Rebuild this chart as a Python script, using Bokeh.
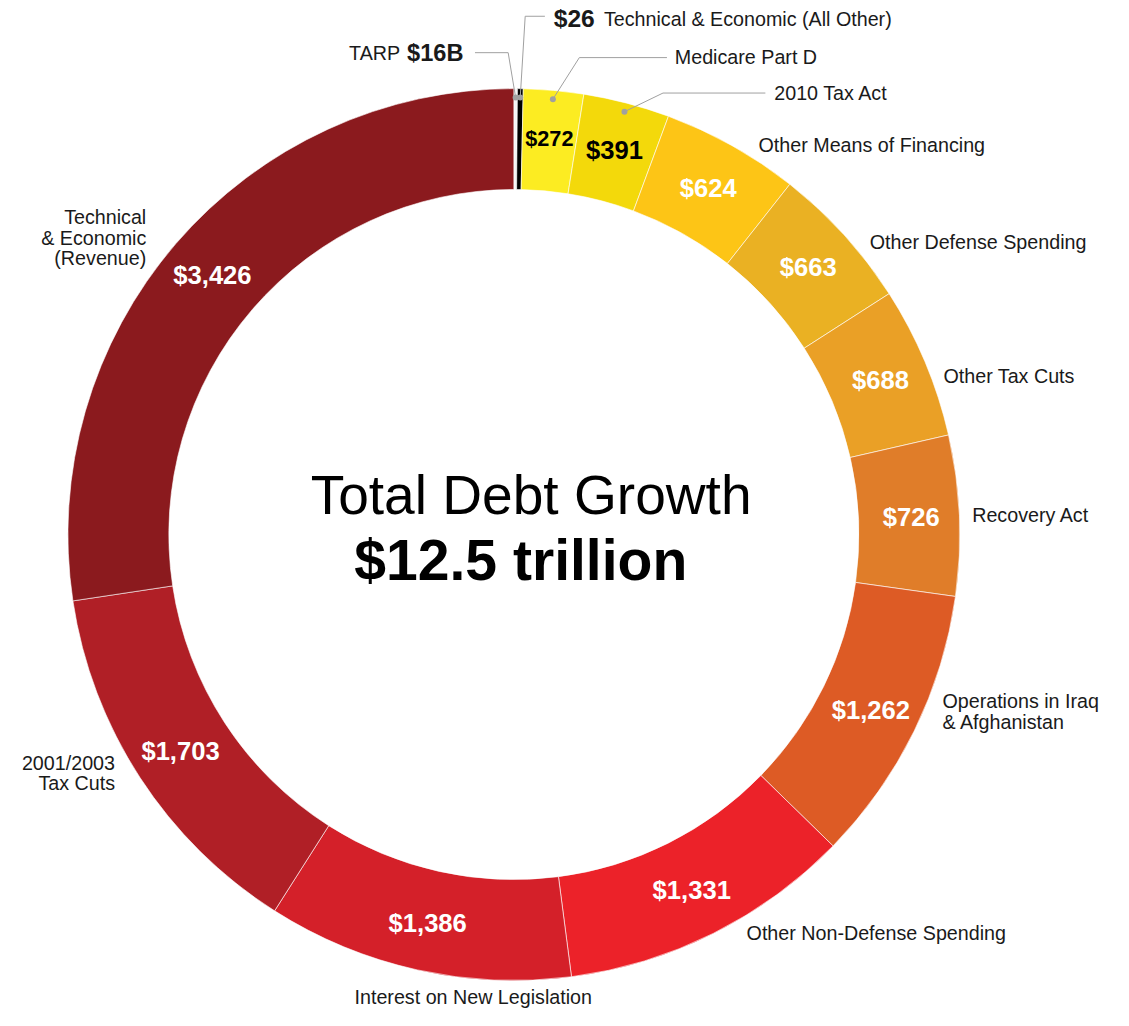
import math
from bokeh.plotting import figure
from bokeh.models import Range1d, ColumnDataSource
from bokeh.embed import file_html
from bokeh.resources import INLINE
from bokeh.core.properties import value

# ---------------- data ----------------
categories = [
    "TARP",
    "Technical & Economic (All Other)",
    "Medicare Part D",
    "2010 Tax Act",
    "Other Means of Financing",
    "Other Defense Spending",
    "Other Tax Cuts",
    "Recovery Act",
    "Operations in Iraq & Afghanistan",
    "Other Non-Defense Spending",
    "Interest on New Legislation",
    "2001/2003 Tax Cuts",
    "Technical & Economic (Revenue)",
]
values = [16, 26, 272, 391, 624, 663, 688, 726, 1262, 1331, 1386, 1703, 3426]
value_labels = ["$16B", "$26", "$272", "$391", "$624", "$663", "$688", "$726",
                "$1,262", "$1,331", "$1,386", "$1,703", "$3,426"]
display_names = [
    "TARP",
    "Technical & Economic (All Other)",
    "Medicare Part D",
    "2010 Tax Act",
    "Other Means of Financing",
    "Other Defense Spending",
    "Other Tax Cuts",
    "Recovery Act",
    "Operations in Iraq\n& Afghanistan",
    "Other Non-Defense Spending",
    "Interest on New Legislation",
    "2001/2003\nTax Cuts",
    "Technical\n& Economic\n(Revenue)",
]
title_text = "Total Debt Growth"
total_text = "$12.5 trillion"

# ---------------- style / layout ----------------
colors = ["#f4f4f4", "#000000", "#fcec22", "#f3d90b", "#fdc516", "#eab123",
          "#eaa026", "#e07d29", "#dd5b25", "#ec2229", "#d42029", "#b01f26",
          "#8b1a1e"]
inner_text_colors = ["white"] * 13
inner_text_colors[2] = "black"
inner_text_colors[3] = "black"
FONT = "Liberation Sans"
TXT = "#1a1a1a"

W, H = 1113, 1010
REF_W, REF_H = 1129, 1026
S = H / REF_H  # whole design scaled slightly so it fits the figure


def Y(py):  # reference pixel y -> data y
    return REF_H - py


def fs(px):
    return f"{px * S:.1f}px"


CX, CY = 521.5, Y(542.5)
R_OUT, R_IN = 453.0, 350.5
R_VAL = 404.0
R_DOT = 444.0

total = float(sum(values))
starts, ends, mids = [], [], []
cum = 0.0
for v in values:
    t0 = cum / total * 2 * math.pi
    cum += v
    t1 = cum / total * 2 * math.pi
    starts.append(math.pi / 2 - t0)
    ends.append(math.pi / 2 - t1)
    mids.append((t0 + t1) / 2)

p = figure(width=W, height=H, x_range=Range1d(0, W / S),
           y_range=Range1d(REF_H - H / S, REF_H),
           output_backend="svg", toolbar_location=None,
           x_axis_type=None, y_axis_type=None,
           min_border=0, min_border_left=0, min_border_right=0,
           min_border_top=0, min_border_bottom=0)
p.grid.visible = False
p.outline_line_color = None
p.background_fill_color = "white"
p.border_fill_color = "white"

src = ColumnDataSource(dict(start=starts, end=ends, color=colors, cat=categories, val=values))
p.annular_wedge(x=CX, y=CY, inner_radius=R_IN, outer_radius=R_OUT,
                start_angle="start", end_angle="end", direction="clock",
                fill_color="color", line_color="white", line_width=0.6,
                source=src)

# ---------------- values inside ring ----------------
big_idx = [i for i in range(3, 13)]
vsrc = ColumnDataSource(dict(
    x=[CX + R_VAL * math.sin(mids[i]) for i in big_idx],
    y=[CY + R_VAL * math.cos(mids[i]) for i in big_idx],
    t=[value_labels[i] for i in big_idx],
    c=[inner_text_colors[i] for i in big_idx],
))
p.text(x="x", y="y", text="t", text_color="c", source=vsrc,
       text_font=value(FONT), text_font_style="bold", text_font_size=fs(26),
       text_align="center", text_baseline="middle")
p.text(x=[CX + R_VAL * math.sin(mids[2])], y=[CY + R_VAL * math.cos(mids[2])],
       text=[value_labels[2]], text_color=inner_text_colors[2],
       text_font=value(FONT), text_font_style="bold", text_font_size=fs(22),
       text_align="center", text_baseline="middle")

# ---------------- outer labels (no leader) ----------------
outer_idx = [4, 5, 6, 7, 8, 9, 10, 11, 12]
outer_nudge = {4: 2.9, 5: 2.8, 6: 2.6, 7: 0.0, 8: -3.7, 9: -3.7, 10: -7.5, 11: 2.2, 12: -1.8}
outer_r = {4: 467, 5: 468, 6: 465, 7: 466, 8: 471, 9: 469, 10: 472, 11: 472, 12: 480}
for i in outer_idx:
    a = mids[i] + math.radians(outer_nudge[i])
    x = CX + outer_r[i] * math.sin(a)
    y = CY + outer_r[i] * math.cos(a)
    deg = math.degrees(a) % 360
    if 170 < deg < 190:
        align = "center"
    elif deg < 180:
        align = "left"
    else:
        align = "right"
    p.text(x=[x], y=[y], text=[display_names[i]], text_color=TXT,
           text_font=value(FONT), text_font_size=fs(20), text_line_height=0.92,
           text_align=align, text_baseline="middle")

# ---------------- leader-line labels ----------------
leader_idx = [0, 1, 2, 3]
leader_geo = {  # (elbow_x, level_y_px, end_x)
    0: (515.7, 53, 482),
    1: (533.0, 16, 553),
    2: (588.0, 58, 677),
    3: (673.0, 94, 777),
}
xs, ys, dx, dy = [], [], [], []
for i in leader_idx:
    px = CX + R_DOT * math.sin(mids[i])
    py = CY + R_DOT * math.cos(mids[i])
    ex, ly, endx = leader_geo[i]
    xs.append([px, ex, endx])
    ys.append([py, Y(ly), Y(ly)])
    dx.append(px)
    dy.append(py)
p.multi_line(xs=xs, ys=ys, line_color="#a0a0a0", line_width=1)
p.scatter(x=dx, y=dy, size=6, fill_color="#a0a0a0", line_color=None)

# TARP $16B
p.text(x=[406], y=[Y(53)], text=[categories[0]], text_color=TXT,
       text_font=value(FONT), text_font_size=fs(20),
       text_align="right", text_baseline="middle")
p.text(x=[413], y=[Y(53)], text=[value_labels[0]], text_color=TXT,
       text_font=value(FONT), text_font_style="bold", text_font_size=fs(24),
       text_align="left", text_baseline="middle")
# $26 Technical & Economic (All Other)
p.text(x=[562], y=[Y(18)], text=[value_labels[1]], text_color=TXT,
       text_font=value(FONT), text_font_style="bold", text_font_size=fs(25),
       text_align="left", text_baseline="middle")
p.text(x=[613], y=[Y(19)], text=[categories[1]], text_color=TXT,
       text_font=value(FONT), text_font_size=fs(20),
       text_align="left", text_baseline="middle")
# Medicare / 2010
p.text(x=[685], y=[Y(57)], text=[categories[2]], text_color=TXT,
       text_font=value(FONT), text_font_size=fs(20),
       text_align="left", text_baseline="middle")
p.text(x=[786], y=[Y(94)], text=[categories[3]], text_color=TXT,
       text_font=value(FONT), text_font_size=fs(20),
       text_align="left", text_baseline="middle")

# ---------------- centre text ----------------
p.text(x=[CX + 17.5], y=[Y(502)], text=[title_text], text_color="black",
       text_font=value(FONT), text_font_size=fs(56),
       text_align="center", text_baseline="middle")
p.text(x=[CX + 7], y=[Y(568)], text=[total_text], text_color="black",
       text_font=value(FONT), text_font_style="bold", text_font_size=fs(58),
       text_align="center", text_baseline="middle")

open("out.html", "w").write(file_html(p, INLINE))
